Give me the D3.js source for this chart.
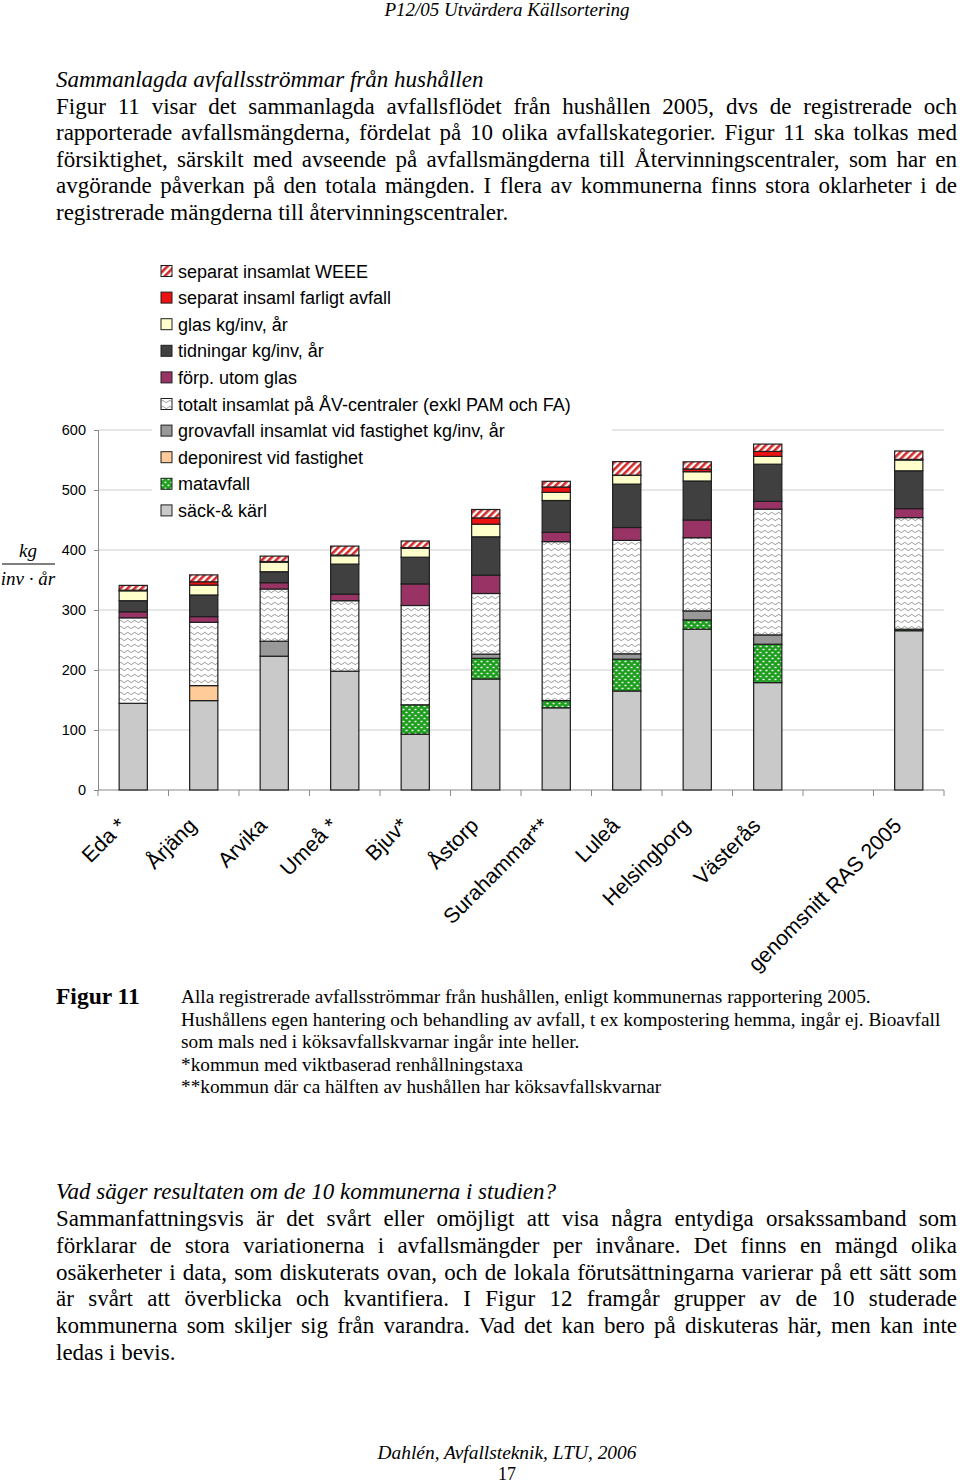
<!DOCTYPE html>
<html><head><meta charset="utf-8">
<script src="https://cdn.jsdelivr.net/npm/d3@7"></script>
<style>body{margin:0;background:#fff}svg{display:block}</style>
</head><body><svg id="page" width="960" height="1483"></svg>
<script>
// ---------- DATA ----------
const categories = ["Eda *","Årjäng","Arvika","Umeå *","Bjuv*","Åstorp","Surahammar**","Luleå","Helsingborg","Västerås"," ","genomsnitt RAS 2005"];
const sackKarl    = [144.5,149,223,198,93,185,137,165,268,179,0,265.5];
const matavfall   = [0,0,0,0,49,34.5,12,53,15.5,64,0,2.5];
const deponirest  = [0,25,0,0,0,0,0,0,0,0,0,0];
const grovavfall  = [0,0,25,0,0,7,0,9,15,15.5,0,0];
const avCentraler = [142.5,105.5,87,117.5,165.5,101,265,189,122,209.5,0,186];
const forp        = [10,9.5,10.5,11,36,30.5,15.5,21.5,29.5,13,0,15];
const tidningar   = [18.5,36,18.3,50,44.5,64,53,72.3,65,62,0,63];
const glas        = [16.5,16.5,16,14,15,21,13.5,14.5,15.5,13,0,18];
const farligt     = [1,5.5,1,1,1,10.5,9,0.5,4.5,8.3,0,1];
const weee        = [8,11.5,9,15,11,14,9.5,22.5,12,12.2,0,14];
const yTicks = [0,100,200,300,400,500,600];

const seriesKeys   = ["sack","mat","dep","grov","av","forp","tid","glas","farl","weee"];
const seriesLabels = {
  weee:"separat insamlat WEEE", farl:"separat insaml farligt avfall", glas:"glas kg/inv, år",
  tid:"tidningar kg/inv, år", forp:"förp. utom glas", av:"totalt insamlat på ÅV-centraler (exkl PAM och FA)",
  grov:"grovavfall insamlat vid fastighet kg/inv, år", dep:"deponirest vid fastighet", mat:"matavfall", sack:"säck-& kärl"
};
const seriesArrays = {sack:sackKarl, mat:matavfall, dep:deponirest, grov:grovavfall, av:avCentraler,
  forp:forp, tid:tidningar, glas:glas, farl:farligt, weee:weee};

const topText = [
  "Figur 11 visar det sammanlagda avfallsflödet från hushållen 2005, dvs de registrerade och",
  "rapporterade avfallsmängderna, fördelat på 10 olika avfallskategorier. Figur 11 ska tolkas med",
  "försiktighet, särskilt med avseende på avfallsmängderna till Återvinningscentraler, som har en",
  "avgörande påverkan på den totala mängden. I flera av kommunerna finns stora oklarheter i de",
  "registrerade mängderna till återvinningscentraler."
];
const captionText = [
  "Alla registrerade avfallsströmmar från hushållen, enligt kommunernas rapportering 2005.",
  "Hushållens egen hantering och behandling av avfall, t ex kompostering hemma, ingår ej. Bioavfall",
  "som mals ned i köksavfallskvarnar ingår inte heller.",
  "*kommun med viktbaserad renhållningstaxa",
  "**kommun där ca hälften av hushållen har köksavfallskvarnar"
];
const bottomText = [
  "Sammanfattningsvis är det svårt eller omöjligt att visa några entydiga orsakssamband som",
  "förklarar de stora variationerna i avfallsmängder per invånare. Det finns en mängd olika",
  "osäkerheter i data, som diskuterats ovan, och de lokala förutsättningarna varierar på ett sätt som",
  "är svårt att överblicka och kvantifiera. I Figur 12 framgår grupper av de 10 studerade",
  "kommunerna som skiljer sig från varandra. Vad det kan bero på diskuteras här, men kan inte",
  "ledas i bevis."
];

// ---------- SETUP ----------
const svg = d3.select("#page");
const SERIF = "'Liberation Serif','Times New Roman',serif";
const SANS = "'Liberation Sans',Arial,sans-serif";

const defs = svg.append("defs");
const pW = defs.append("pattern").attr("id","pWeee").attr("patternUnits","userSpaceOnUse")
  .attr("width",5).attr("height",5).attr("patternTransform","rotate(45)");
pW.append("rect").attr("width",5).attr("height",5).attr("fill","#fff");
pW.append("rect").attr("width",2.6).attr("height",5).attr("fill","#d42a2a");
const pA = defs.append("pattern").attr("id","pAv").attr("patternUnits","userSpaceOnUse")
  .attr("width",7).attr("height",6);
pA.append("rect").attr("width",7).attr("height",6).attr("fill","#fff");
pA.append("path").attr("d","M0 3.5 Q1.75 1.2 3.5 3.5 T7 3.5").attr("fill","none").attr("stroke","#8a8a8a").attr("stroke-width",0.9);
const pM = defs.append("pattern").attr("id","pMat").attr("patternUnits","userSpaceOnUse")
  .attr("width",6).attr("height",6);
pM.append("rect").attr("width",6).attr("height",6).attr("fill","#1e9e1e");
pM.append("rect").attr("x",0.5).attr("y",0.8).attr("width",2).attr("height",1.4).attr("fill","#fff");
pM.append("rect").attr("x",3.5).attr("y",3.8).attr("width",2).attr("height",1.4).attr("fill","#fff");

const fills = {sack:"#c9c9c9", mat:"url(#pMat)", dep:"#ffcc99", grov:"#999999", av:"url(#pAv)",
  forp:"#993366", tid:"#404040", glas:"#ffffcc", farl:"#ee1111", weee:"url(#pWeee)"};

// ---------- TEXT HELPERS ----------
function line(text, x0, x1, y, opts) {
  const t = svg.append("text").attr("y", y)
    .attr("font-family", opts.family || SERIF).attr("font-size", opts.size)
    .attr("font-style", opts.italic ? "italic" : null)
    .attr("font-weight", opts.bold ? "bold" : null).attr("fill","#000");
  if (!opts.justify) { t.attr("x", x0).text(text); return t; }
  const words = text.split(" ");
  const spans = words.map(w => t.append("tspan").text(w));
  const widths = spans.map(s => s.node().getComputedTextLength());
  const gap = (x1 - x0 - d3.sum(widths)) / (words.length - 1);
  let x = x0;
  spans.forEach((s, i) => { s.attr("x", x); x += widths[i] + gap; });
  return t;
}

svg.append("text").attr("x",507).attr("y",16).attr("text-anchor","middle")
  .attr("font-family",SERIF).attr("font-style","italic").attr("font-size",19).text("P12/05 Utvärdera Källsortering");

const BODY = 23;
line("Sammanlagda avfallsströmmar från hushållen", 56, 957, 87, {size:BODY, italic:true});
topText.forEach((s,i) => line(s, 56, 957, 113.5 + i*26.6, {size:BODY, justify: i < topText.length-1}));

// ---------- CHART ----------
const rows = categories.map((c,i) => {
  const r = {cat:c};
  seriesKeys.forEach(k => r[k] = seriesArrays[k][i]);
  return r;
});
const stack = d3.stack().keys(seriesKeys)(rows);

const x = d3.scaleBand().domain(categories).range([98, 944]).paddingInner(0.6).paddingOuter(0.3);
const y = d3.scaleLinear().domain([0, 600]).range([790, 430]);

svg.append("g").selectAll("line").data(yTicks.filter(d=>d>0)).join("line")
  .attr("x1", 98).attr("x2", 944).attr("y1", d=>y(d)).attr("y2", d=>y(d))
  .attr("stroke","#cccccc").attr("stroke-width",1);

svg.append("rect").attr("x",152).attr("y",257).attr("width",460).attr("height",266).attr("fill","#fff");

const yAxis = svg.append("g").attr("transform","translate(98,0)")
  .call(d3.axisLeft(y).tickValues(yTicks).tickSize(4).tickPadding(8));
yAxis.select(".domain").attr("stroke","#8a8a8a");
yAxis.selectAll(".tick line").attr("stroke","#8a8a8a");
yAxis.selectAll(".tick text").attr("font-family",SANS).attr("font-size",14.5).attr("fill","#000");

svg.append("line").attr("x1",98).attr("x2",944).attr("y1",y(0)).attr("y2",y(0)).attr("stroke","#8a8a8a");
svg.append("g").selectAll("line").data(d3.range(categories.length+1)).join("line")
  .attr("x1", i => x.range()[0] + i*x.step()).attr("x2", i => x.range()[0] + i*x.step())
  .attr("y1", y(0)).attr("y2", y(0)+6).attr("stroke","#8a8a8a");

svg.append("g").selectAll("g").data(stack).join("g")
  .attr("fill", d => fills[d.key])
  .selectAll("rect").data(d => d.filter(p => p[1]-p[0] > 0)).join("rect")
  .attr("x", d => x(d.data.cat)).attr("width", x.bandwidth())
  .attr("y", d => y(d[1])).attr("height", d => y(d[0]) - y(d[1]))
  .attr("stroke","#1e1e1e").attr("stroke-width",1.2);

svg.append("g").selectAll("text").data(categories.filter(c=>c.trim()!=="")).join("text")
  .attr("transform", c => `translate(${x(c)+x.bandwidth()/2-6},827) rotate(-45)`)
  .attr("text-anchor","end").attr("font-family",SANS).attr("font-size",21.2).text(c=>c);

const legendKeys = seriesKeys.slice().reverse();
const lg = svg.append("g").selectAll("g").data(legendKeys).join("g")
  .attr("transform", (k,i) => `translate(161,${271 + i*26.6})`);
lg.append("rect").attr("x",0).attr("y",-5.5).attr("width",11).attr("height",11)
  .attr("fill", k => fills[k]).attr("stroke","#1e1e1e").attr("stroke-width",1);
lg.append("text").attr("x",17).attr("y",6.5).attr("font-family",SANS).attr("font-size",18)
  .text(k => seriesLabels[k]);

svg.append("text").attr("x",28).attr("y",557).attr("text-anchor","middle")
  .attr("font-family",SERIF).attr("font-style","italic").attr("font-size",19).text("kg");
svg.append("line").attr("x1",2).attr("x2",55).attr("y1",564).attr("y2",564).attr("stroke","#000").attr("stroke-width",1);
svg.append("text").attr("x",28).attr("y",585).attr("text-anchor","middle")
  .attr("font-family",SERIF).attr("font-style","italic").attr("font-size",19).text("inv · år");

svg.append("text").attr("x",56).attr("y",1004).attr("font-family",SERIF).attr("font-weight","bold")
  .attr("font-size",23.5).text("Figur 11");
captionText.forEach((s,i) => line(s, 181, 957, 1003 + i*22.6, {size:19.3}));

line("Vad säger resultaten om de 10 kommunerna i studien?", 56, 957, 1199, {size:BODY, italic:true});
bottomText.forEach((s,i) => line(s, 56, 957, 1226 + i*26.8, {size:BODY, justify: i < bottomText.length-1}));

svg.append("text").attr("x",507).attr("y",1459).attr("text-anchor","middle")
  .attr("font-family",SERIF).attr("font-style","italic").attr("font-size",19.4).text("Dahlén, Avfallsteknik, LTU, 2006");
svg.append("text").attr("x",507).attr("y",1480).attr("text-anchor","middle")
  .attr("font-family",SERIF).attr("font-size",18).text("17");
</script></body></html>
